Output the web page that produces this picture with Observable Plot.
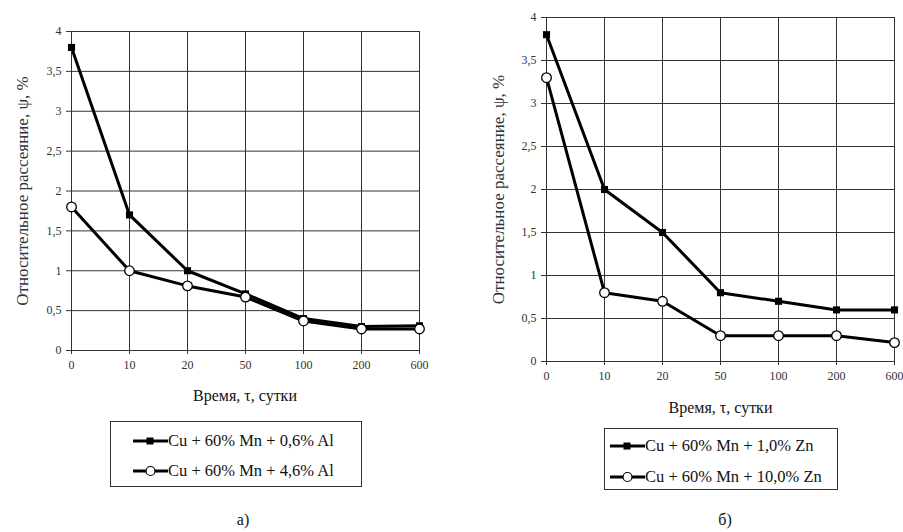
<!DOCTYPE html>
<html><head><meta charset="utf-8">
<script src="https://cdn.jsdelivr.net/npm/d3@7"></script>
<script src="https://cdn.jsdelivr.net/npm/@observablehq/plot@0.6"></script>
<style>
body{margin:0;background:#fff;}
#wrap{position:relative;width:903px;height:532px;overflow:hidden;font-family:"Liberation Serif","DejaVu Serif","Noto Serif",serif;color:#111;}
.panel{position:absolute;top:0;}
.legend{position:absolute;border:1px solid #333;box-sizing:border-box;font-size:16.5px;}
.legend .row{position:absolute;display:flex;align-items:center;white-space:nowrap;height:20px;}
.legend svg{display:block;}
.cap{position:absolute;font-size:16px;transform:translate(-50%,-50%);}
</style></head>
<body><div id="wrap"></div>
<script>
const days = ["0","10","20","50","100","200","600"];
const yTicks = [0,0.5,1,1.5,2,2.5,3,3.5,4];
const yTitle = "Относительное рассеяние, ψ, %";
const xTitle = "Время, τ, сутки";

const namesA = ["Cu + 60% Mn + 0,6% Al","Cu + 60% Mn + 4,6% Al"];
const al06 = [3.8,1.7,1.0,0.71,0.4,0.3,0.31];
const al46 = [1.8,1.0,0.81,0.67,0.37,0.27,0.27];

const namesB = ["Cu + 60% Mn + 1,0% Zn","Cu + 60% Mn + 10,0% Zn"];
const zn10 = [3.8,2.0,1.5,0.8,0.7,0.6,0.6];
const zn100 = [3.3,0.8,0.7,0.3,0.3,0.3,0.22];

const wrap = document.getElementById("wrap");
const FONT = "'Liberation Serif', 'DejaVu Serif', 'Noto Serif', serif";

function panel(s1, s2, o){
  const r1 = days.map((d,i)=>({day:d, v:s1[i]}));
  const r2 = days.map((d,i)=>({day:d, v:s2[i]}));
  const fmt = d => String(d).replace(".", ",");
  const chart = Plot.plot({
    width:o.width, height:o.height,
    marginLeft:o.ml, marginRight:o.mr, marginTop:o.mt, marginBottom:o.mb,
    style:{fontFamily:FONT, fontSize:"12px", color:"#333", background:"transparent", overflow:"hidden"},
    x:{type:"point", domain:days, padding:0, label:null},
    y:{domain:[0,4], label:null},
    marks:[
      Plot.gridX(days, {stroke:"#333", strokeOpacity:1, strokeWidth:1}),
      Plot.gridY(yTicks, {stroke:"#333", strokeOpacity:1, strokeWidth:1}),
      Plot.axisX({tickSize:4, tickPadding:6, label:null}),
      Plot.axisY({ticks:yTicks, tickFormat:fmt, tickSize:4, tickPadding:5, label:null}),
      Plot.text([yTitle], {text:d=>d, frameAnchor:"left", textAnchor:"middle", rotate:-90, dx:-o.ytOff, fontSize:17, fill:"#333"}),
      Plot.text([xTitle], {text:d=>d, frameAnchor:"bottom", textAnchor:"middle", dy:o.xtOff, fontSize:16, fill:"#111"}),
      Plot.line(r1, {x:"day", y:"v", stroke:"#000", strokeWidth:3}),
      Plot.line(r2, {x:"day", y:"v", stroke:"#000", strokeWidth:3}),
      Plot.dot(r1, {x:"day", y:"v", symbol:"square", fill:"#000", r:4}),
      Plot.dot(r2, {x:"day", y:"v", symbol:"circle", fill:"#fff", stroke:"#000", strokeWidth:1.3, r:4.8})
    ]
  });
  chart.classList.add("panel");
  chart.style.left = o.left + "px";
  wrap.appendChild(chart);
}

function legend(names, o){
  const box = document.createElement("div");
  box.className = "legend";
  Object.assign(box.style, {left:o.x+"px", top:o.y+"px", width:o.w+"px", height:o.h+"px"});
  names.forEach((n,i)=>{
    const row = document.createElement("div");
    row.className = "row";
    row.style.left = o.sw + "px";
    row.style.top = (o.rows[i]-10) + "px";
    const sw = i===0
      ? `<svg width="35" height="14"><line x1="0" x2="35" y1="7" y2="7" stroke="#000" stroke-width="3"/><rect x="13.5" y="3.5" width="7" height="7" fill="#000"/></svg>`
      : `<svg width="35" height="14"><line x1="0" x2="35" y1="7" y2="7" stroke="#000" stroke-width="3"/><circle cx="17.5" cy="7" r="4.5" fill="#fff" stroke="#000" stroke-width="1.2"/></svg>`;
    row.innerHTML = sw + `<span>${n}</span>`;
    box.appendChild(row);
  });
  wrap.appendChild(box);
}

function caption(t, x, y){
  const c = document.createElement("div");
  c.className = "cap"; c.textContent = t;
  c.style.left = x+"px"; c.style.top = y+"px";
  wrap.appendChild(c);
}

panel(al06, al46, {left:0, width:450, height:420, ml:70, mr:31, mt:31, mb:70, ytOff:48, xtOff:50});
panel(zn10, zn100, {left:450, width:453, height:420, ml:95, mr:8, mt:17, mb:59, ytOff:47, xtOff:51});
legend(namesA, {x:110, y:421, w:252, h:66, sw:22, rows:[19,49]});
legend(namesB, {x:604, y:428, w:234, h:62, sw:5, rows:[17,48]});
caption("а)", 243, 520);
caption("б)", 725, 520);
</script></body></html>
